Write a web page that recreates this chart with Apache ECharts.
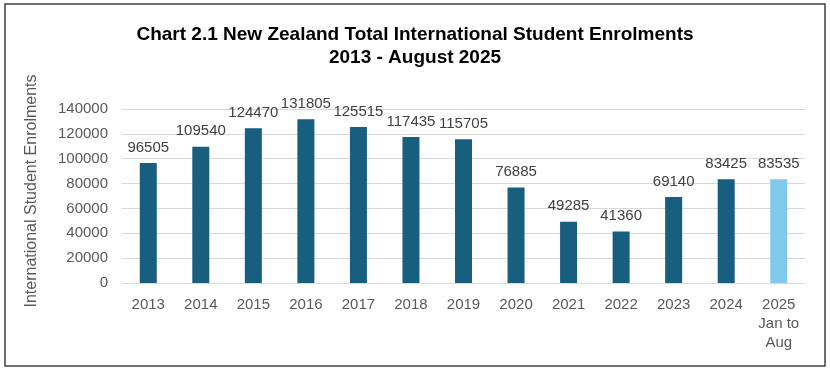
<!DOCTYPE html>
<html><head><meta charset="utf-8">
<script src="https://cdn.jsdelivr.net/npm/echarts@6/dist/echarts.min.js"></script>
<style>html,body{margin:0;padding:0;background:#fff}#c{width:830px;height:369px}</style>
</head><body><div id="c"></div>
<script>
const categories = ['2013','2014','2015','2016','2017','2018','2019','2020','2021','2022','2023','2024','2025\nJan to\nAug'];
const enrolments = [96505,109540,124470,131805,125515,117435,115705,76885,49285,41360,69140,83425,83535];
const yTicks = [0,20000,40000,60000,80000,100000,120000,140000];
const dark = '#175e7f', light = '#7fcaea';
const chart = echarts.init(document.getElementById('c'));
chart.setOption({
  animation:false,
  title:{text:'Chart 2.1 New Zealand Total International Student Enrolments\n2013 - August 2025',left:'center',top:18,
    textStyle:{fontFamily:'Liberation Sans',fontWeight:'bold',fontSize:19,color:'#000',lineHeight:23}},
  graphic:[{type:'rect',shape:{x:5,y:4,width:820,height:362},style:{fill:'none',stroke:'#404040',lineWidth:1.5}}],
  grid:{left:122,right:25,top:109,bottom:86},
  xAxis:{type:'category',data:categories,axisTick:{show:false},axisLine:{lineStyle:{color:'#d9d9d9'}},
    axisLabel:{interval:0,color:'#595959',fontSize:15,fontFamily:'Liberation Sans',margin:12,lineHeight:19,verticalAlign:'top'}},
  yAxis:{type:'value',min:yTicks[0],max:yTicks[yTicks.length-1],interval:20000,
    name:'International Student Enrolments',nameLocation:'middle',nameGap:82,
    nameTextStyle:{color:'#595959',fontSize:16,fontFamily:'Liberation Sans',padding:[0,0,0,10]},
    axisLabel:{color:'#595959',fontSize:15,fontFamily:'Liberation Sans',margin:14,formatter:v=>String(v)},
    splitLine:{lineStyle:{color:'#d9d9d9'}}},
  series:[{type:'bar',barWidth:17,
    data:enrolments.map((v,i)=>({value:v,itemStyle:{color:i===enrolments.length-1?light:dark}})),
    label:{show:true,position:'top',distance:8,color:'#404040',fontSize:15,fontFamily:'Liberation Sans'}}]
});
</script></body></html>
